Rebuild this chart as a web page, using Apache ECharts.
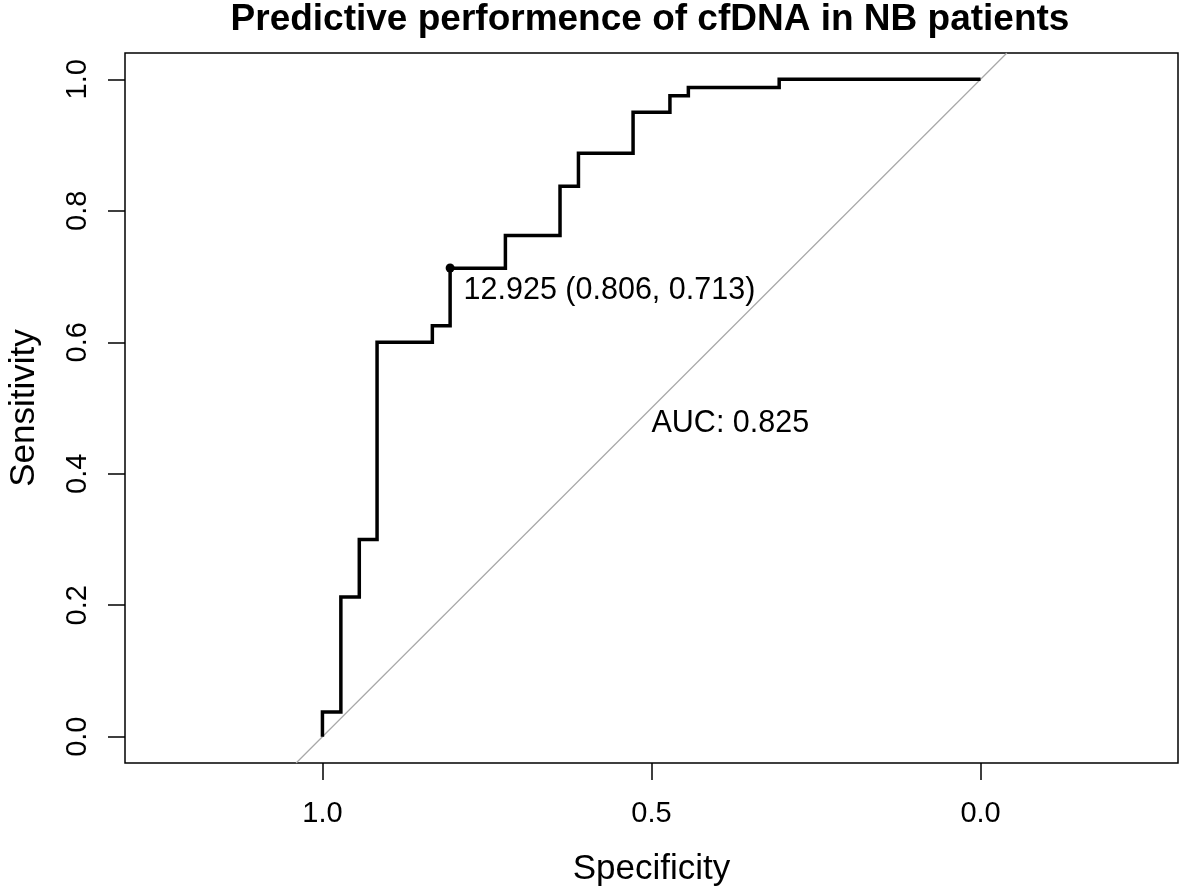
<!DOCTYPE html>
<html>
<head>
<meta charset="utf-8">
<script src="https://cdn.jsdelivr.net/npm/echarts@6/dist/echarts.min.js"></script>
<style>
html,body{margin:0;padding:0;background:#fff;}
#chart{width:1181px;height:891px;}
</style>
</head>
<body>
<div id="chart"></div>
<script>
// ROC curve vertices (top of each vertical step)
const specificity = [1, 1, 0.972, 0.944, 0.917, 0.833, 0.806, 0.722, 0.639, 0.611, 0.528, 0.472, 0.444, 0.306, 0];
const sensitivity = [0, 0.0375, 0.2125, 0.3, 0.6, 0.625, 0.7125, 0.7625, 0.8375, 0.8875, 0.95, 0.975, 0.9875, 1, 1];
// chance diagonal, spanning the plot region
const diagSpec = [1.04, -0.04];
const diagSens = [-0.04, 1.04];
// best threshold point
const thresholdPoint = [0.806, 0.713];
const thresholdLabel = '12.925 (0.806, 0.713)';
// AUC annotation
const aucPos = [0.5, 0.477];
const aucLabel = 'AUC: 0.825';
// ticks
const xTickValues = [1.0, 0.5, 0.0];
const yTickValues = [0.0, 0.2, 0.4, 0.6, 0.8, 1.0];
const titleText = 'Predictive performence of cfDNA in NB patients';

const FONT = '"Liberation Sans", Arial, Helvetica, sans-serif';
const chart = echarts.init(document.getElementById('chart'), null, {renderer: 'canvas'});

const rocData = specificity.map((s, i) => [s, sensitivity[i]]);
const diagData = diagSpec.map((s, i) => [s, diagSens[i]]);

chart.setOption({
  animation: false,
  backgroundColor: '#ffffff',
  title: {
    text: titleText,
    left: 650,
    top: 1,
    padding: 0,
    textAlign: 'center',
    textStyle: {fontFamily: FONT, fontWeight: 'bold', fontSize: 37, color: '#000'}
  },
  grid: {
    left: 125, top: 53, right: 3, bottom: 128,
    containLabel: false, outerBoundsMode: 'none',
    show: true, borderColor: '#000', borderWidth: 1.5, backgroundColor: 'transparent'
  },
  xAxis: {
    type: 'value', min: -0.3, max: 1.3, inverse: true,
    name: 'Specificity', nameLocation: 'middle', nameGap: 89,
    nameTextStyle: {fontFamily: FONT, fontSize: 35, color: '#000'},
    axisLine: {show: false, onZero: false},
    splitLine: {show: false},
    axisTick: {show: true, length: 17, customValues: xTickValues, lineStyle: {color: '#000', width: 1.5}},
    axisLabel: {show: true, customValues: xTickValues, margin: 36, fontFamily: FONT, fontSize: 29, color: '#000',
      formatter: v => Number(v).toFixed(1)}
  },
  yAxis: {
    type: 'value', min: -0.04, max: 1.04,
    name: 'Sensitivity', nameLocation: 'middle', nameGap: 83,
    nameTextStyle: {fontFamily: FONT, fontSize: 35, color: '#000'},
    axisLine: {show: false, onZero: false},
    splitLine: {show: false},
    axisTick: {show: true, length: 17, customValues: yTickValues, lineStyle: {color: '#000', width: 1.5}},
    axisLabel: {show: true, customValues: yTickValues, rotate: 90, margin: 33, fontFamily: FONT, fontSize: 29, color: '#000',
      formatter: v => Number(v).toFixed(1)}
  },
  series: [
    {
      type: 'line', data: diagData, showSymbol: false, silent: true, z: 1,
      lineStyle: {color: '#a8a8a8', width: 1.2}
    },
    {
      type: 'line', data: rocData, step: 'end', showSymbol: false, silent: true, z: 2,
      lineStyle: {color: '#000', width: 3.5, join: 'miter'}
    },
    {
      type: 'scatter', data: [thresholdPoint], symbolSize: 9, z: 3,
      itemStyle: {color: '#000', opacity: 1},
      label: {show: true, position: 'right', distance: 9, offset: [0, 23],
        formatter: thresholdLabel, fontFamily: FONT, fontSize: 30.5, color: '#000', opacity: 1}
    },
    {
      type: 'scatter', data: [aucPos], symbolSize: 0, z: 3,
      itemStyle: {opacity: 1},
      label: {show: true, position: 'right', distance: 0,
        formatter: aucLabel, fontFamily: FONT, fontSize: 30.5, color: '#000', opacity: 1}
    }
  ]
});
</script>
</body>
</html>
